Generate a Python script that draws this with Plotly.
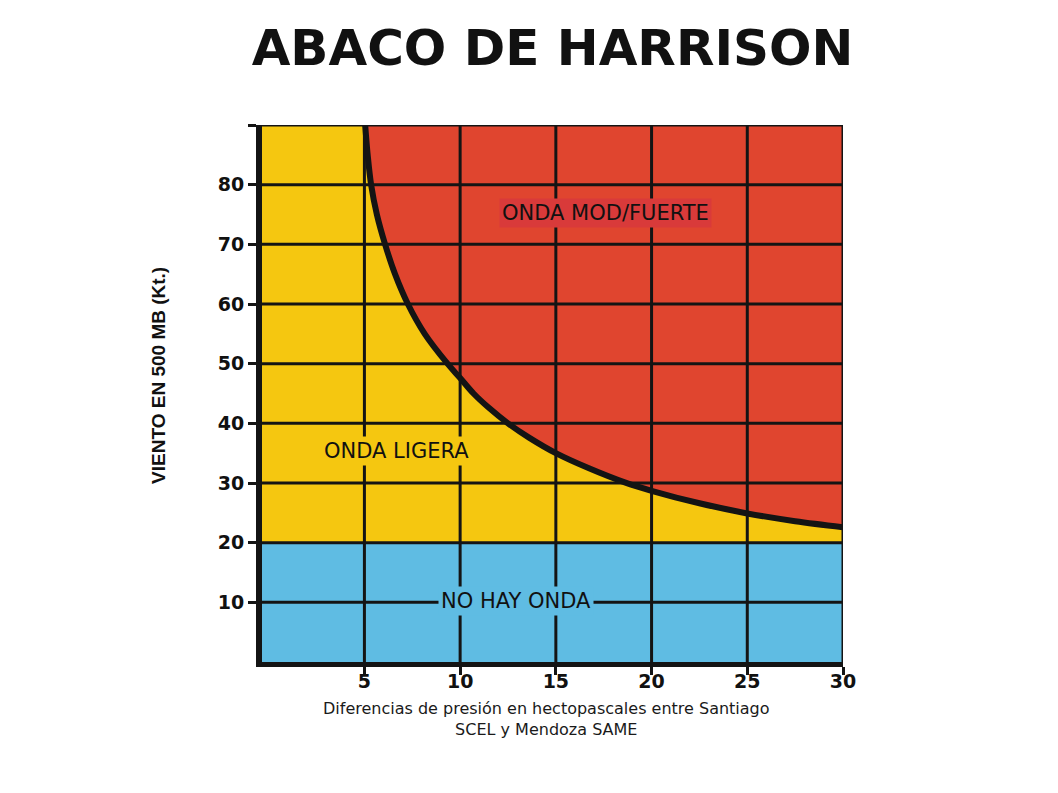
import plotly.graph_objects as go

# ---- data ----
title_text = "ABACO DE HARRISON"
x_ticks = [5, 10, 15, 20, 25, 30]
y_ticks = [10, 20, 30, 40, 50, 60, 70, 80, 90]
y_tick_labels = ["10", "20", "30", "40", "50", "60", "70", "80", ""]
x_range = [-0.35, 30]
y_range = [0, 90]
no_wave_limit = 20  # upper limit of "NO HAY ONDA"

# Harrison threshold curve (pressure difference hPa, wind kt)
curve_x = [5.04, 5.17, 5.35, 5.65, 6.08, 6.6, 7.27, 8.15, 9.34, 10.0, 10.7, 11.5,
           12.5, 13.6, 15.0, 16.7, 18.6, 20.0, 22.5, 25.0, 27.5, 30.0]
curve_y = [90, 85, 80, 75, 70, 65, 60, 55, 50, 47.6, 45, 42.6,
           40, 37.6, 35.0, 32.5, 30.1, 28.7, 26.6, 24.9, 23.6, 22.6]

zone_labels = ["ONDA MOD/FUERTE", "ONDA LIGERA", "NO HAY ONDA"]
zone_label_x = [17.6, 6.7, 12.9]
zone_label_y = [75.3, 35.4, 10.25]

x_title = "Diferencias de presión en hectopascales entre Santiago<br>SCEL y Mendoza SAME"
y_title = "VIENTO EN 500 MB (Kt.)"

# ---- styles ----
YELLOW = "#F5C710"
RED = "#E0452F"
RED_LABEL = "#D93A3A"
BLUE = "#5FBCE3"
BLACK = "#141414"
OFF = 8  # default page body margin in the exported html

fig = go.Figure()

# invisible top boundary for red region
fig.add_trace(go.Scatter(
    x=[curve_x[0], x_range[1]], y=[y_range[1], y_range[1]],
    mode="lines", line=dict(width=0, color=RED), hoverinfo="skip", showlegend=False))
# threshold curve with red fill above
fig.add_trace(go.Scatter(
    x=curve_x, y=curve_y, mode="lines",
    line=dict(color=BLACK, width=6, shape="spline", smoothing=1),
    fill="tonexty", fillcolor=RED, showlegend=False))

shapes = []
shapes.append(dict(type="rect", xref="paper", x0=0, x1=1, yref="y",
                   y0=y_range[0], y1=no_wave_limit, fillcolor=BLUE,
                   line=dict(width=0), layer="below"))
for xv in x_ticks:
    shapes.append(dict(type="line", xref="x", x0=xv, x1=xv, yref="y",
                       y0=y_range[0], y1=y_range[1],
                       line=dict(color=BLACK, width=3), layer="above"))
for yv in y_ticks:
    shapes.append(dict(type="line", xref="paper", x0=0, x1=1, yref="y",
                       y0=yv, y1=yv,
                       line=dict(color=BLACK, width=3), layer="above"))

annotations = []
label_bg = [RED_LABEL, YELLOW, BLUE]
for t, xv, yv, bg in zip(zone_labels, zone_label_x, zone_label_y, label_bg):
    annotations.append(dict(
        text=t, x=xv, y=yv, xref="x", yref="y", showarrow=False,
        font=dict(family="DejaVu Sans", size=21, color="#111111"),
        bgcolor=bg, borderpad=2, xanchor="center", yanchor="middle"))

annotations.append(dict(
    text=y_title, textangle=-90, xref="paper", yref="paper",
    x=-0.177, y=0.533, xanchor="center", yanchor="middle", showarrow=False,
    font=dict(family="Liberation Sans Narrow, Liberation Sans", size=19,
              color="#111111", weight="bold")))
annotations.append(dict(
    text=x_title, xref="paper", yref="paper", x=0.489, y=-0.106,
    xanchor="center", yanchor="middle", showarrow=False,
    font=dict(family="DejaVu Sans", size=16, color="#1a1a1a")))

fig.update_layout(
    width=1058, height=793,
    margin=dict(l=262 - OFF, r=215 + OFF, t=125 - OFF, b=131 + OFF),
    paper_bgcolor="white", plot_bgcolor=YELLOW,
    title=dict(text=title_text, x=0.5, xref="paper", y=1 - (47 - OFF) / 793,
               yref="container", xanchor="center", yanchor="middle",
               font=dict(family="DejaVu Sans", size=50, color="#111111",
                         weight="bold")),
    shapes=shapes, annotations=annotations, showlegend=False,
)
fig.update_xaxes(
    range=x_range, tickvals=x_ticks, ticktext=[str(v) for v in x_ticks],
    showgrid=False, zeroline=False, showline=True, linewidth=5, linecolor=BLACK,
    ticks="outside", ticklen=8, tickwidth=3, tickcolor=BLACK,
    ticklabelstandoff=-10,
    tickfont=dict(family="DejaVu Sans", size=19, color="#111111", weight="bold"),
)
fig.update_yaxes(
    range=y_range, tickvals=y_ticks, ticktext=y_tick_labels,
    showgrid=False, zeroline=False, showline=True, linewidth=6, linecolor=BLACK,
    ticks="outside", ticklen=8, tickwidth=3, tickcolor=BLACK,
    tickfont=dict(family="DejaVu Sans", size=19, color="#111111", weight="bold"),
)

fig.write_html("out.html")
